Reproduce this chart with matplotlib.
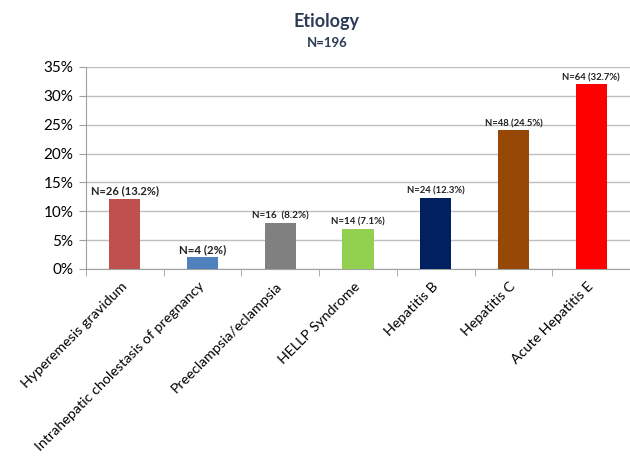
import numpy as np
import matplotlib.pyplot as plt
from matplotlib.ticker import FixedLocator

plt.rcParams['font.family'] = ['Lato', 'DejaVu Sans']

categories = ['Hyperemesis gravidum', 'Intrahepatic cholestasis of pregnancy',
              'Preeclampsia/eclampsia', 'HELLP Syndrome', 'Hepatitis B',
              'Hepatitis C', 'Acute Hepatitis E']
percent = [12.2, 2.0, 8.0, 7.0, 12.3, 24.0, 32.0]
bar_labels = ['N=26 (13.2%)', 'N=4 (2%)', 'N=16  (8.2%)', 'N=14 (7.1%)',
              'N=24 (12.3%)', 'N=48 (24.5%)', 'N=64 (32.7%)']
bar_colors = ['#C0504D', '#4F81BD', '#808080', '#92D050', '#002060', '#974706', '#FF0000']
label_sizes = [8, 8.3, 7.1, 7.0, 6.8, 6.8, 6.8]
yticks = [0, 5, 10, 15, 20, 25, 30, 35]

fig = plt.figure(figsize=(6.3, 4.61), dpi=100)
ax = fig.add_axes([0.1365, 0.4165, 0.8635, 0.4382])

x = np.arange(len(categories))
ax.bar(x, percent, width=0.4, color=bar_colors, zorder=3)

for xi, v, lab, fs in zip(x, percent, bar_labels, label_sizes):
    ax.text(xi, v + 0.35, lab, ha='center', va='bottom', fontsize=fs,
            fontweight='bold', color='#222222')

ax.set_xlim(-0.5, len(categories) - 0.5)
ax.set_ylim(0, 35)
ax.set_yticks(yticks)
ax.set_yticklabels([f'{t}%' for t in yticks], fontsize=11)
ax.yaxis.grid(True, color='#BFBFBF', linewidth=1, zorder=0)

ax.set_xticks(x)
ax.set_xticklabels(categories, rotation=45, ha='right', va='center',
                   rotation_mode='anchor', fontsize=10.3)
ax.tick_params(axis='x', which='major', length=0, pad=11)
ax.xaxis.set_minor_locator(FixedLocator(np.arange(-0.5, len(categories), 1.0)))
ax.tick_params(axis='x', which='minor', length=5, color='#A0A0A0')
ax.tick_params(axis='y', length=5, color='#A0A0A0', pad=4)

for s in ['top', 'right']:
    ax.spines[s].set_visible(False)
for s in ['left', 'bottom']:
    ax.spines[s].set_color('#A0A0A0')

fig.text(0.519, 0.9414, 'Etiology', ha='center', va='baseline', fontsize=13,
         fontweight='bold', color='#2E3B55')
fig.text(0.519, 0.898, 'N=196', ha='center', va='baseline', fontsize=9.5,
         fontweight='bold', color='#2E3B55')

fig.savefig('out.png', dpi=100)
